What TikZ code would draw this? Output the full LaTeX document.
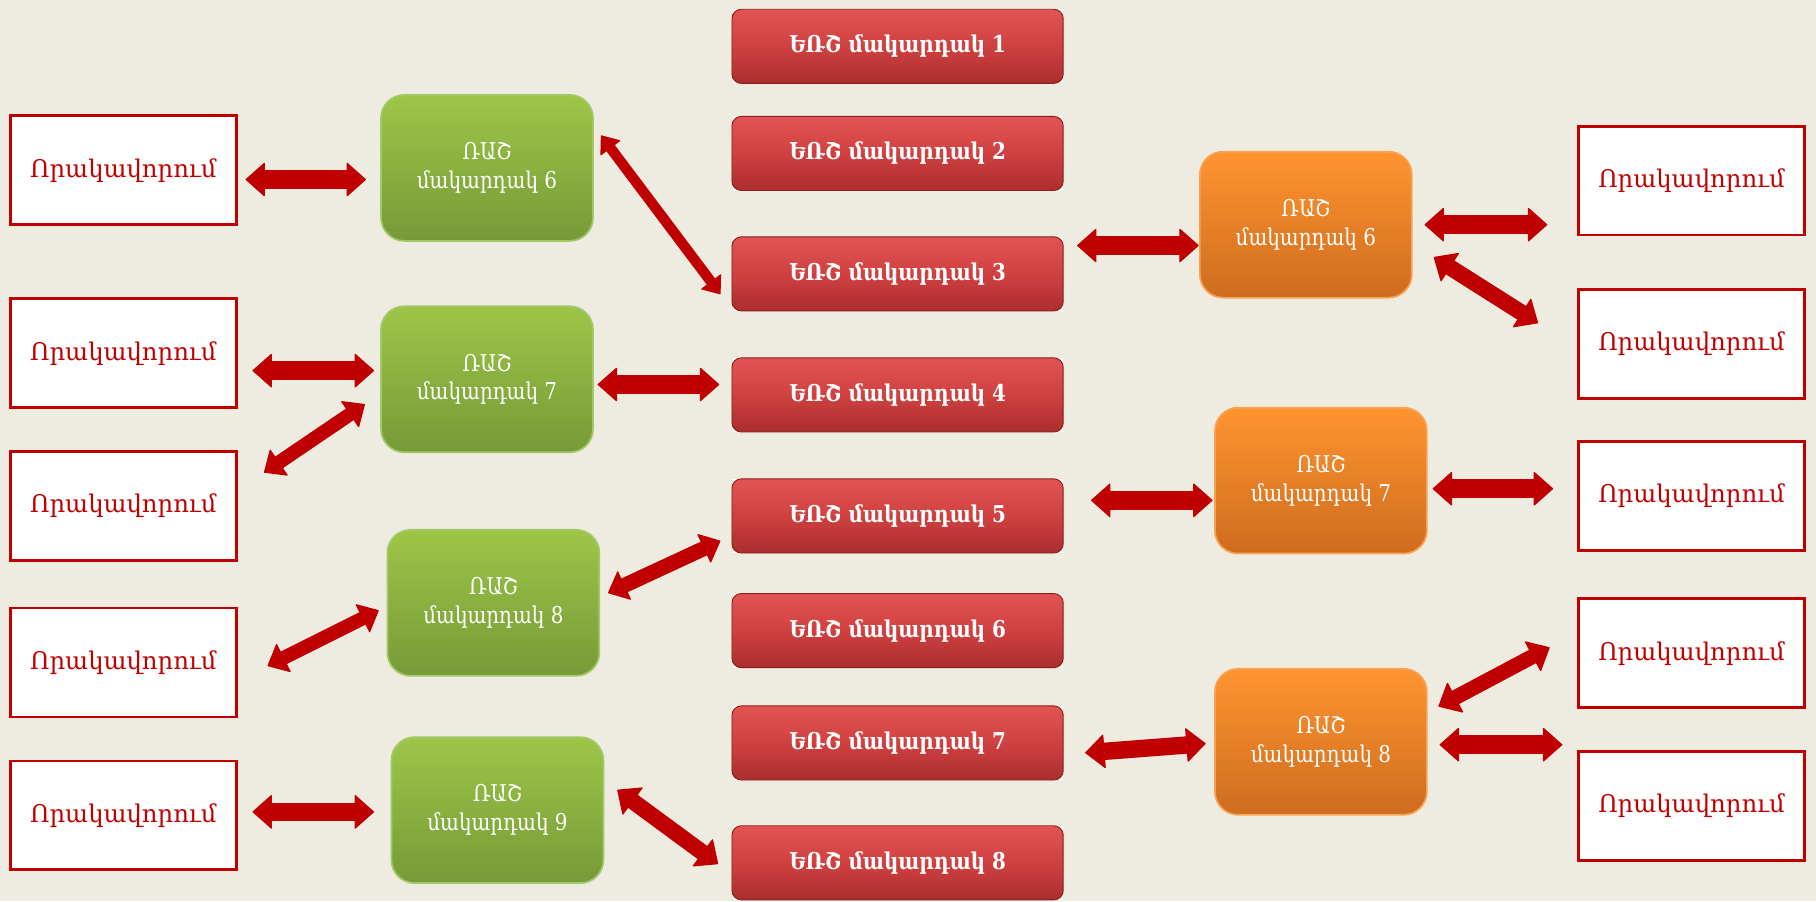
\documentclass[tikz,border=0pt]{standalone}
\usepackage{fontspec}
\usetikzlibrary{arrows.meta}
\newfontfamily\armserif{DejaVu Serif}
\newfontfamily\armcond{DejaVu Serif}[FakeStretch=0.86]
\definecolor{bgc}{RGB}{238,235,224}
\definecolor{qred}{RGB}{192,0,0}
\definecolor{rtop}{RGB}{226,84,84}
\definecolor{rmid}{RGB}{208,64,64}
\definecolor{rbot}{RGB}{170,46,46}
\definecolor{redge}{RGB}{140,30,30}
\definecolor{gtop}{RGB}{157,198,72}
\definecolor{gbot}{RGB}{118,154,56}
\definecolor{gedge}{RGB}{162,200,104}
\definecolor{otop}{RGB}{255,148,48}
\definecolor{obot}{RGB}{206,108,30}
\definecolor{oedge}{RGB}{250,162,84}
\tikzset{
  qual/.style={draw=qred, line width=2.4pt, fill=white, minimum width=195pt,
    minimum height=94pt, inner sep=0pt, text=qred,
    font=\armserif\fontsize{21}{25}\selectfont},
  ebox/.style={rounded corners=8pt, draw=redge, line width=0.8pt,
    top color=rtop, bottom color=rbot, middle color=rmid,
    minimum width=286pt, minimum height=64pt, inner sep=0pt, text=white,
    font=\armcond\bfseries\fontsize{20}{24}\selectfont},
  gbox/.style={rounded corners=20pt, draw=gedge, line width=1.5pt,
    top color=gtop, bottom color=gbot, minimum width=183pt,
    minimum height=126pt, inner sep=0pt, align=center, text=white,
    font=\armcond\fontsize{20}{25}\selectfont},
  obox/.style={gbox, draw=oedge, top color=otop, bottom color=obot},
  arr/.style n args={3}{draw=qred, line width=#1pt,
    arrows={Triangle[width=#2pt,length=#3pt,line width=1pt,round]-Triangle[width=#2pt,length=#3pt,line width=1pt,round]}}
}
\begin{document}
\begin{tikzpicture}[x=1pt,y=-1pt]
\fill[bgc] (0,0) rectangle (1568,778);
\useasboundingbox (0,0) rectangle (1568,778);

% left qualification boxes
\node[qual] (L1) at (106.5,147) {Որակավորում};
\node[qual] (L2) at (106.5,305) {Որակավորում};
\node[qual] (L3) at (106.5,437) {Որակավորում};
\node[qual] (L4) at (106.5,572) {Որակավորում};
\node[qual] (L5) at (106.5,704) {Որակավորում};

% green boxes
\node[gbox] (G6) at (420.5,145) {ՌԱՇ\\մակարդակ 6};
\node[gbox] (G7) at (420.5,327.5) {ՌԱՇ\\մակարդակ 7};
\node[gbox] (G8) at (426,520.5) {ՌԱՇ\\մակարդակ 8};
\node[gbox] (G9) at (429.5,699.5) {ՌԱՇ\\մակարդակ 9};

% red boxes
\foreach \i/\y in {1/40,2/132.5,3/236.5,4/341,5/445.5,6/544.5,7/641.5,8/745}{
  \fill[white] (632.5,{\y-32}) rectangle (917.5,{\y+32});
  \node[ebox] (R\i) at (775,\y) {ԵՌՇ մակարդակ \i};
}

% orange boxes
\node[obox] (O6) at (1127.5,194) {ՌԱՇ\\մակարդակ 6};
\node[obox] (O7) at (1140.5,415) {ՌԱՇ\\մակարդակ 7};
\node[obox] (O8) at (1140.5,640.5) {ՌԱՇ\\մակարդակ 8};

% right qualification boxes
\node[qual] (Q1) at (1460.5,156) {Որակավորում};
\node[qual] (Q2) at (1460.5,297) {Որակավորում};
\node[qual] (Q3) at (1460.5,428) {Որակավորում};
\node[qual] (Q4) at (1460.5,564) {Որակավորում};
\node[qual] (Q5) at (1460.5,696) {Որակավորում};

% arrow end points
\coordinate (a1) at (212,155);   \coordinate (b1) at (316,155);
\coordinate (a2) at (218,320);   \coordinate (b2) at (323,320);
\coordinate (a3) at (228,408);   \coordinate (b3) at (315,349);
\coordinate (a4) at (231,575);   \coordinate (b4) at (327,527);
\coordinate (a5) at (218,701);   \coordinate (b5) at (323,701);
\coordinate (a6) at (519,117);   \coordinate (b6) at (622,254);
\coordinate (a7) at (516,332);   \coordinate (b7) at (621,332);
\coordinate (a8) at (525,512);   \coordinate (b8) at (622,467);
\coordinate (a9) at (533,682);   \coordinate (b9) at (620,746);
\coordinate (a10) at (930,212);  \coordinate (b10) at (1035,212);
\coordinate (a11) at (942,432);  \coordinate (b11) at (1047,432);
\coordinate (a12) at (937,650);  \coordinate (b12) at (1041,642);
\coordinate (a13) at (1230,194); \coordinate (b13) at (1336,194);
\coordinate (a14) at (1238,222); \coordinate (b14) at (1328,279);
\coordinate (a15) at (1237,422); \coordinate (b15) at (1341,422);
\coordinate (a16) at (1242,610); \coordinate (b16) at (1338,559);
\coordinate (a17) at (1243,643); \coordinate (b17) at (1349,643);

\draw[arr={16}{30}{17}] (a1) -- (b1);
\draw[arr={16}{30}{17}] (a2) -- (b2);
\draw[arr={12}{28}{16}] (a3) -- (b3);
\draw[arr={12}{28}{16}] (a4) -- (b4);
\draw[arr={16}{30}{17}] (a5) -- (b5);
\draw[arr={9}{22}{14}] (a6) -- (b6);
\draw[arr={16}{30}{17}] (a7) -- (b7);
\draw[arr={13}{28}{16}] (a8) -- (b8);
\draw[arr={14}{30}{17}] (a9) -- (b9);
\draw[arr={16}{30}{17}] (a10) -- (b10);
\draw[arr={16}{30}{17}] (a11) -- (b11);
\draw[arr={15}{30}{17}] (a12) -- (b12);
\draw[arr={16}{30}{17}] (a13) -- (b13);
\draw[arr={14}{30}{17}] (a14) -- (b14);
\draw[arr={16}{30}{17}] (a15) -- (b15);
\draw[arr={13}{30}{17}] (a16) -- (b16);
\draw[arr={16}{30}{17}] (a17) -- (b17);
\end{tikzpicture}
\end{document}
